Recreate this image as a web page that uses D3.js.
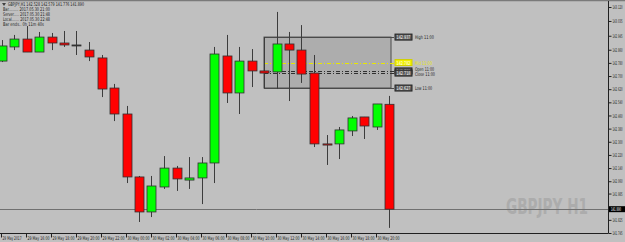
<!DOCTYPE html>
<html>
<head>
<meta charset="utf-8">
<script src="https://cdn.jsdelivr.net/npm/d3@7"></script>
<style>
  body { margin: 0; background: #c0c0c0; }
  svg { display: block; }
  text { font-family: "DejaVu Sans", sans-serif; }
</style>
</head>
<body>
<script>
// Chart data: GBPJPY H1, 29 May 14:00 .. 30 May 21:00
var times = ["29 May 14:00","29 May 15:00","29 May 16:00","29 May 17:00","29 May 18:00","29 May 19:00",
             "29 May 20:00","29 May 21:00","29 May 22:00","29 May 23:00","30 May 00:00","30 May 01:00",
             "30 May 02:00","30 May 03:00","30 May 04:00","30 May 05:00","30 May 06:00","30 May 07:00",
             "30 May 08:00","30 May 09:00","30 May 10:00","30 May 11:00","30 May 12:00","30 May 13:00",
             "30 May 14:00","30 May 15:00","30 May 16:00","30 May 17:00","30 May 18:00","30 May 19:00",
             "30 May 20:00","30 May 21:00"];
var opens  = [142.791,142.877,142.925,142.846,142.937,142.901,142.889,142.858,142.810,142.627,142.469,142.086,
              141.873,142.025,142.140,142.067,142.080,142.171,142.822,142.597,142.791,142.731,142.725,142.895,
              142.858,142.718,142.287,142.287,142.366,142.451,142.390,142.528];
var highs  = [142.919,142.950,143.004,142.968,142.962,142.974,142.974,142.907,142.828,142.652,142.518,142.092,
              142.092,142.213,142.153,142.207,142.207,142.877,142.950,142.877,142.864,142.937,143.090,142.968,
              143.010,142.828,142.341,142.390,142.457,142.451,142.530,142.579];
var lows   = [142.785,142.858,142.846,142.846,142.858,142.877,142.828,142.791,142.572,142.426,142.049,141.812,
              141.842,142.013,142.001,142.013,141.921,142.049,142.536,142.469,142.633,142.627,142.621,142.548,
              142.658,142.268,142.159,142.195,142.335,142.317,142.372,141.776];
var closes = [142.883,142.925,142.846,142.937,142.901,142.889,142.889,142.816,142.621,142.469,142.086,141.873,
              142.031,142.140,142.074,142.080,142.171,142.834,142.597,142.791,142.731,142.718,142.895,142.858,
              142.712,142.287,142.280,142.372,142.445,142.396,142.530,141.890];

var priceTicks = [143.120,143.035,142.945,142.860,142.780,142.700,142.620,142.540,142.460,142.380,
                  142.300,142.220,142.140,142.060,141.985,141.825,141.745];
var timeTickIdx = [0,2,4,6,8,10,12,14,16,18,20,22,24,26,28,30];
var timeTickLabels = ["29 May 2017","29 May 16:00","29 May 18:00","29 May 20:00","29 May 22:00","30 May 00:00",
                      "30 May 02:00","30 May 04:00","30 May 06:00","30 May 08:00","30 May 10:00","30 May 12:00",
                      "30 May 14:00","30 May 16:00","30 May 18:00","30 May 20:00"];

var infoLines = ["GBPJPY,H1  142.528 142.579 141.776 141.890",
                 "Bar.........  2017.05.30 21:00",
                 "Server.....  2017.05.30 21:48",
                 "Local.......  2017.05.30 22:48",
                 "Bar ends..  0h 11m 40s"];

// box levels of the 11:00 bar
var refIdx = 21;
var levelNames = ["High", "Mid", "Open", "Close", "Low"];
var levelValues = [142.937, 142.782, 142.731, 142.718, 142.627];
var bidPrice = 141.890;

var svgWidth = 625, svgHeight = 242;
var plotRight = 608, plotTop = 1, plotBottom = 233;

var svg = d3.select("body").append("svg")
            .attr("width", svgWidth)
            .attr("height", svgHeight);

svg.append("rect").attr("width", svgWidth).attr("height", svgHeight).attr("fill", "#c0c0c0");

var x = d3.scaleLinear().domain([0, times.length - 1]).range([1.5, 389]);
var y = d3.scaleLinear().domain([141.745, 143.120]).range([233, 7]);

var data = times.map(function(t, i) {
  return { t: t, i: i, o: opens[i], h: highs[i], l: lows[i], c: closes[i] };
});

// watermark
svg.append("text")
   .attr("x", 506).attr("y", 214)
   .attr("textLength", 82).attr("lengthAdjust", "spacingAndGlyphs")
   .style("font-family", "'Liberation Sans Narrow', 'DejaVu Sans Condensed', sans-serif")
   .style("font-weight", "bold").style("font-size", "22px")
   .attr("fill", "#acacac")
   .text("GBPJPY H1");

var plot = svg.append("g");
plot.append("clipPath").attr("id", "clip")
    .append("rect").attr("x", 0).attr("y", plotTop).attr("width", plotRight).attr("height", plotBottom - plotTop);
var inner = plot.append("g").attr("clip-path", "url(#clip)");

// 11:00 range box (drawn behind candles)
var boxX0 = x(refIdx), boxX1 = x(times.length - 1) + 2;
inner.append("rect")
     .attr("x", boxX0).attr("y", y(levelValues[0]))
     .attr("width", boxX1 - boxX0).attr("height", y(levelValues[4]) - y(levelValues[0]))
     .attr("fill", "#adadad").attr("stroke", "#4a4a4a").attr("stroke-width", 1);

// bid line
inner.append("line")
     .attr("x1", 0).attr("x2", plotRight)
     .attr("y1", Math.round(y(bidPrice)) + 0.5).attr("y2", Math.round(y(bidPrice)) + 0.5)
     .attr("stroke", "#707070").attr("stroke-width", 1);

// level lines
var lineEnd = 394;
levelNames.forEach(function(name, k) {
  var yy = Math.round(y(levelValues[k])) + 0.5;
  var ln = inner.append("line")
       .attr("x1", boxX0).attr("x2", lineEnd)
       .attr("y1", yy).attr("y2", yy)
       .attr("stroke-width", 1);
  if (name === "Mid") ln.attr("stroke", "#e8e800").attr("stroke-dasharray", "4,2,1,2");
  else if (name === "Open" || name === "Close") ln.attr("stroke", "#303030").attr("stroke-dasharray", "4,2,1,2");
  else ln.attr("stroke", "#4a4a4a");
});

// candles
var candles = inner.selectAll("g.candle").data(data).enter().append("g").attr("class", "candle");
candles.append("line")
       .attr("x1", d => Math.round(x(d.i)) + 0.5).attr("x2", d => Math.round(x(d.i)) + 0.5)
       .attr("y1", d => y(d.h)).attr("y2", d => y(d.l))
       .attr("stroke", "#3c3c3c").attr("stroke-width", 1);
candles.append("rect")
       .attr("x", d => Math.round(x(d.i)) - 4)
       .attr("y", d => y(Math.max(d.o, d.c)))
       .attr("width", 9)
       .attr("height", d => Math.max(1, y(Math.min(d.o, d.c)) - y(Math.max(d.o, d.c))))
       .attr("fill", d => d.c > d.o ? "#00ff00" : (d.c < d.o ? "#ff0000" : "#3c3c3c"))
       .attr("stroke", "#303030").attr("stroke-width", 0.8);

// level labels
var labels = svg.append("g");
levelNames.forEach(function(name, k) {
  var yy = y(levelValues[k]);
  var isMid = name === "Mid";
  labels.append("rect")
        .attr("x", 395).attr("y", yy - 3).attr("width", 17).attr("height", 6)
        .attr("fill", isMid ? "#f0f000" : "#5a5a5a").attr("stroke", isMid ? "#d0d000" : "#222");
  labels.append("text")
        .attr("x", 396.5).attr("y", yy + 2)
        .attr("textLength", 14).attr("lengthAdjust", "spacingAndGlyphs")
        .style("font-size", "5px").attr("fill", "#ffffff")
        .text(levelValues[k].toFixed(3));
  var ty = yy + 2;
  if (name === "Open") ty = yy + 0.5;
  if (name === "Close") ty = yy + 3;
  labels.append("text")
        .attr("x", 415).attr("y", ty)
        .attr("textLength", name === "Close" ? 20 : (name.length + 6) * 1.9)
        .attr("lengthAdjust", "spacingAndGlyphs")
        .style("font-size", "5px").attr("fill", isMid ? "#e8e800" : "#202020")
        .text(name + " " + times[refIdx].slice(7));
});

// frame
svg.append("line").attr("x1", 0).attr("x2", svgWidth).attr("y1", 0.5).attr("y2", 0.5)
   .attr("stroke", "#7a7a7a").attr("stroke-width", 1.5);

// right price axis
var rightAxis = d3.axisRight(y).tickValues(priceTicks).tickFormat(d3.format(".3f")).tickSize(3).tickPadding(1);
var ra = svg.append("g").attr("transform", `translate(${plotRight + 0.5},0)`).call(rightAxis);
ra.select(".domain").attr("d", `M0,${plotTop}V${plotBottom}`).attr("stroke", "#202020");
ra.selectAll(".tick line").attr("stroke", "#202020");
ra.selectAll(".tick text")
  .attr("textLength", 10).attr("lengthAdjust", "spacingAndGlyphs")
  .style("font-size", "5px").attr("fill", "#202020");

// bid price tag
var by = y(bidPrice);
svg.append("rect").attr("x", 609).attr("y", by - 3).attr("width", 16).attr("height", 6).attr("fill", "#000");
svg.append("text").attr("x", 611).attr("y", by + 2)
   .attr("textLength", 10).attr("lengthAdjust", "spacingAndGlyphs")
   .style("font-size", "5px").attr("fill", "#ffffff").text(bidPrice.toFixed(3));

// bottom time axis
var bottomAxis = d3.axisBottom(x).tickValues(timeTickIdx)
                   .tickFormat((d, i) => timeTickLabels[i]).tickSize(4).tickPadding(1);
var ba = svg.append("g").attr("transform", `translate(0.5,${plotBottom + 0.5})`).call(bottomAxis);
ba.select(".domain").attr("d", `M-1,0H${plotRight}`).attr("stroke", "#202020");
ba.selectAll(".tick line").attr("stroke", "#202020").attr("transform", "translate(-1,0)");
ba.selectAll(".tick text")
  .attr("text-anchor", "start").attr("x", 0).attr("dy", 0).attr("y", 6)
  .attr("textLength", (d, i) => i === 0 ? 19 : 22).attr("lengthAdjust", "spacingAndGlyphs")
  .style("font-size", "5px").attr("fill", "#202020");

// info block
svg.append("path").attr("d", "M2,3 L6,3 L4,6 Z").attr("fill", "#404040");
svg.selectAll("text.info").data(infoLines).enter().append("text")
   .attr("class", "info")
   .attr("x", (d, i) => i === 0 ? 8 : 3)
   .attr("y", (d, i) => 6 + i * 5)
   .attr("textLength", (d, i) => i === 0 ? 76 : (i === 4 ? 41 : 47)).attr("lengthAdjust", "spacingAndGlyphs")
   .style("font-size", "5px").attr("fill", "#202020")
   .text(d => d);
</script>
</body>
</html>
